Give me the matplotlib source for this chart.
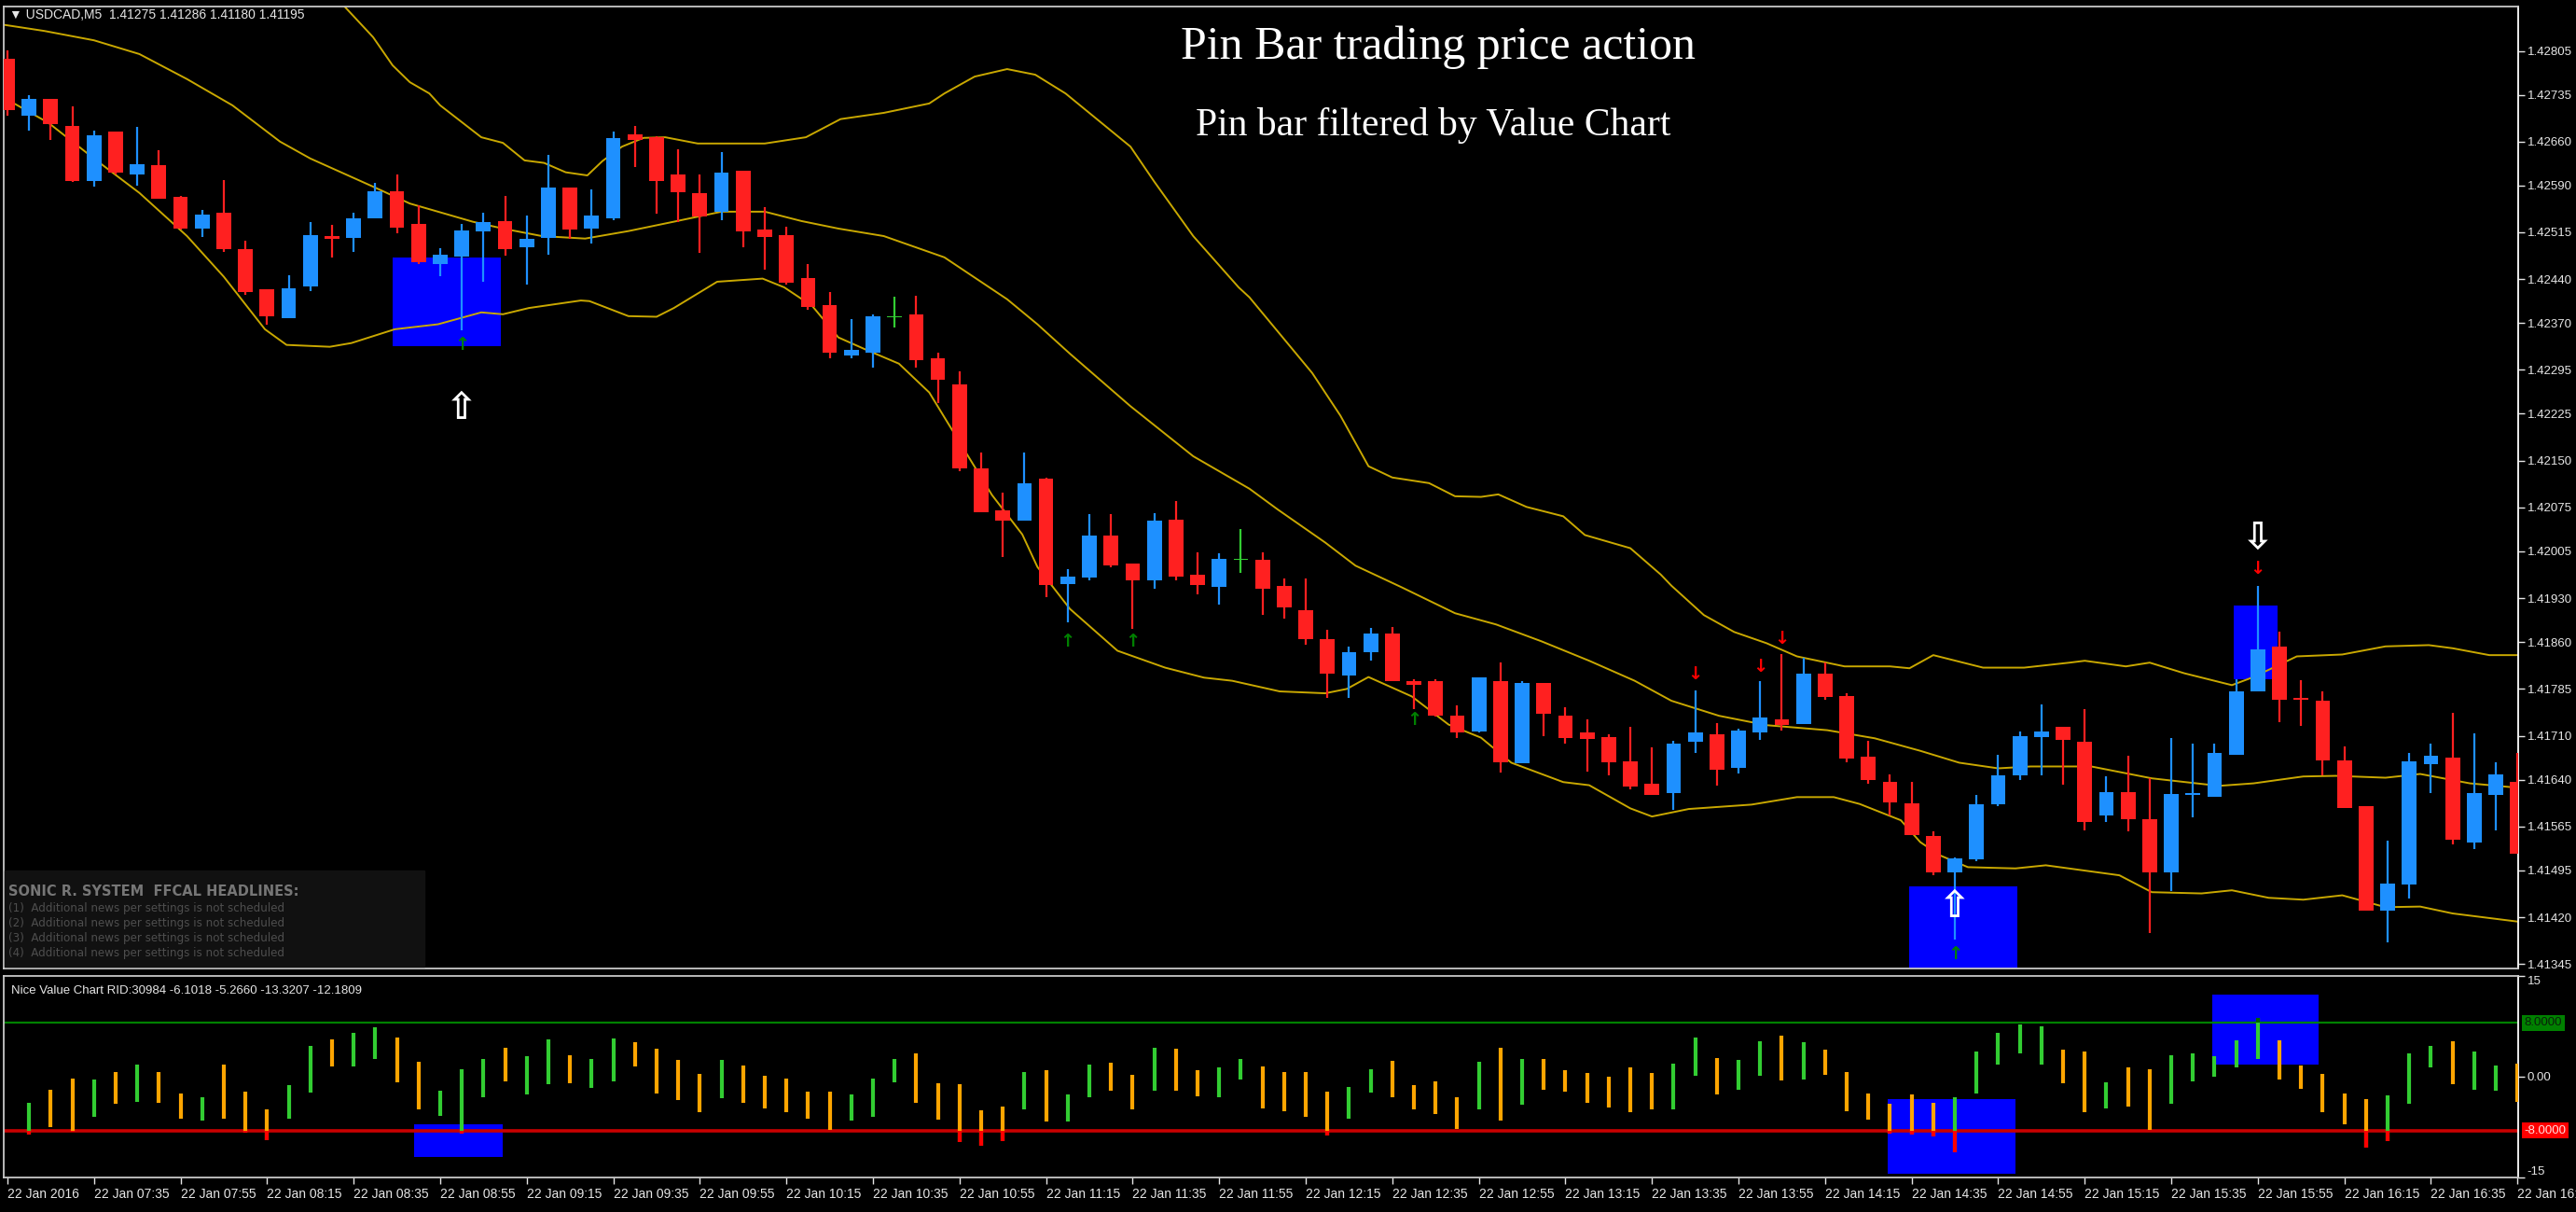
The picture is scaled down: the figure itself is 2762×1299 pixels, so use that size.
import numpy as np
import matplotlib
matplotlib.use("Agg")
import matplotlib.pyplot as plt
from matplotlib.patches import Rectangle

# USDCAD M5 candles, 22 Jan 2016 07:15 .. 16:55 (index 0 .. 116)
opens = [1.42792, 1.42701, 1.42728, 1.42685, 1.42597, 1.42676, 1.42608, 1.42623, 1.42572, 1.42521,
         1.42547, 1.42488, 1.42424, 1.42378, 1.42429, 1.42509, 1.42506, 1.42538, 1.42581, 1.42529,
         1.42464, 1.42476, 1.42516, 1.42533, 1.42491, 1.42506, 1.42587, 1.42521, 1.42538, 1.42671,
         1.42667, 1.42607, 1.42578, 1.42548, 1.42614, 1.42520, 1.42510, 1.42442, 1.42398, 1.42318,
         1.42323, 1.42380, 1.42383, 1.42314, 1.42272, 1.42138, 1.42071, 1.42054, 1.42121, 1.41953,
         1.41963, 1.42030, 1.41985, 1.41959, 1.42055, 1.41967, 1.41948, 1.41992, 1.41992, 1.41950,
         1.41911, 1.41865, 1.41806, 1.41843, 1.41873, 1.41798, 1.41797, 1.41743, 1.41717, 1.41797,
         1.41666, 1.41794, 1.41743, 1.41715, 1.41708, 1.41669, 1.41633, 1.41618, 1.41701, 1.41713,
         1.41659, 1.41716, 1.41737, 1.41729, 1.41810, 1.41774, 1.41676, 1.41637, 1.41602, 1.41550,
         1.41492, 1.41513, 1.41600, 1.41647, 1.41708, 1.41725, 1.41701, 1.41583, 1.41620, 1.41576,
         1.41492, 1.41615, 1.41612, 1.41679, 1.41781, 1.41853, 1.41770, 1.41766, 1.41670, 1.41598,
         1.41430, 1.41472, 1.41665, 1.41675, 1.41540, 1.41615, 1.41637]
highs = [1.42806, 1.42734, 1.42729, 1.42717, 1.42678, 1.42676, 1.42683, 1.42646, 1.42573, 1.42551,
         1.42599, 1.42502, 1.42424, 1.42447, 1.42532, 1.42527, 1.42547, 1.42594, 1.42608, 1.42559,
         1.42490, 1.42528, 1.42547, 1.42573, 1.42542, 1.42639, 1.42587, 1.42583, 1.42676, 1.42685,
         1.42668, 1.42648, 1.42607, 1.42644, 1.42614, 1.42555, 1.42524, 1.42465, 1.42420, 1.42377,
         1.42383, 1.42412, 1.42414, 1.42323, 1.42292, 1.42163, 1.42099, 1.42163, 1.42122, 1.41976,
         1.42064, 1.42064, 1.41985, 1.42066, 1.42086, 1.42004, 1.42002, 1.42040, 1.42004, 1.41962,
         1.41962, 1.41879, 1.41853, 1.41882, 1.41884, 1.41801, 1.41801, 1.41758, 1.41804, 1.41827,
         1.41797, 1.41794, 1.41755, 1.41737, 1.41713, 1.41724, 1.41692, 1.41702, 1.41783, 1.41730,
         1.41722, 1.41798, 1.41841, 1.41835, 1.41828, 1.41778, 1.41702, 1.41648, 1.41637, 1.41558,
         1.41515, 1.41616, 1.41680, 1.41717, 1.41760, 1.41725, 1.41752, 1.41645, 1.41678, 1.41642,
         1.41706, 1.41698, 1.41698, 1.41801, 1.41950, 1.41877, 1.41799, 1.41781, 1.41693, 1.41598,
         1.41542, 1.41683, 1.41698, 1.41747, 1.41714, 1.41667, 1.41683]
lows = [1.42702, 1.42677, 1.42662, 1.42595, 1.42588, 1.42608, 1.42589, 1.42568, 1.42520, 1.42508,
        1.42484, 1.42415, 1.42368, 1.42378, 1.42421, 1.42475, 1.42484, 1.42537, 1.42513, 1.42465,
        1.42445, 1.42359, 1.42436, 1.42478, 1.42432, 1.42479, 1.42504, 1.42497, 1.42534, 1.42620,
        1.42545, 1.42532, 1.42482, 1.42534, 1.42491, 1.42456, 1.42431, 1.42391, 1.42314, 1.42313,
        1.42298, 1.42363, 1.42298, 1.42242, 1.42133, 1.42067, 1.41996, 1.42054, 1.41932, 1.41892,
        1.41958, 1.41979, 1.41881, 1.41945, 1.41959, 1.41936, 1.41920, 1.41971, 1.41903, 1.41897,
        1.41856, 1.41770, 1.41770, 1.41830, 1.41797, 1.41752, 1.41741, 1.41707, 1.41716, 1.41651,
        1.41666, 1.41710, 1.41697, 1.41653, 1.41647, 1.41624, 1.41615, 1.41592, 1.41682, 1.41631,
        1.41650, 1.41703, 1.41718, 1.41729, 1.41768, 1.41668, 1.41634, 1.41582, 1.41552, 1.41487,
        1.41384, 1.41509, 1.41597, 1.41639, 1.41647, 1.41632, 1.41559, 1.41572, 1.41557, 1.41395,
        1.41462, 1.41579, 1.41612, 1.41679, 1.41781, 1.41732, 1.41726, 1.41647, 1.41594, 1.41430,
        1.41380, 1.41450, 1.41618, 1.41537, 1.41529, 1.41559, 1.41521]
closes = [1.42710, 1.42729, 1.42688, 1.42597, 1.42670, 1.42610, 1.42624, 1.42569, 1.42521, 1.42544,
          1.42488, 1.42419, 1.42380, 1.42425, 1.42510, 1.42504, 1.42538, 1.42581, 1.42523, 1.42467,
          1.42479, 1.42518, 1.42531, 1.42488, 1.42505, 1.42587, 1.42519, 1.42542, 1.42665, 1.42662,
          1.42597, 1.42579, 1.42541, 1.42611, 1.42516, 1.42508, 1.42434, 1.42395, 1.42322, 1.42327,
          1.42381, 1.42380, 1.42311, 1.42279, 1.42137, 1.42067, 1.42054, 1.42114, 1.41951, 1.41965,
          1.42030, 1.41983, 1.41958, 1.42054, 1.41965, 1.41951, 1.41993, 1.41992, 1.41945, 1.41916,
          1.41865, 1.41809, 1.41844, 1.41873, 1.41798, 1.41792, 1.41742, 1.41716, 1.41804, 1.41668,
          1.41795, 1.41745, 1.41707, 1.41705, 1.41668, 1.41629, 1.41615, 1.41697, 1.41715, 1.41655,
          1.41718, 1.41739, 1.41727, 1.41810, 1.41772, 1.41673, 1.41639, 1.41604, 1.41552, 1.41492,
          1.41514, 1.41600, 1.41647, 1.41710, 1.41717, 1.41704, 1.41572, 1.41620, 1.41576, 1.41492,
          1.41617, 1.41619, 1.41682, 1.41781, 1.41848, 1.41767, 1.41769, 1.41670, 1.41594, 1.41430,
          1.41474, 1.41669, 1.41678, 1.41544, 1.41619, 1.41648, 1.41521]

# bollinger bands (candle position, price)
upper_x = [13.9, 15.5, 16.9, 17.8, 18.6, 19.5, 20.0, 21.9, 22.9, 23.9, 24.8, 25.8, 26.8, 27.5, 28.4,
           29.4, 30.4, 31.9, 33.4, 35.0, 36.9, 38.5, 40.5, 42.6, 43.3, 44.7, 46.2, 47.5, 48.9, 51.9,
           53.0, 54.8, 56.9, 57.4, 60.3, 61.6, 62.9, 64.0, 65.7, 66.9, 68.1, 68.9, 70.2, 71.9, 72.9,
           75.0, 76.4, 76.9, 78.4, 79.8, 81.3, 82.7, 84.9, 87.0, 87.9, 89.0, 91.3, 93.2, 95.3, 96.0,
           97.9, 99.0, 100.6, 102.8, 103.8, 105.8, 107.9, 109.9, 111.9, 113.0, 114.7, 116.0]
upper_y = [1.42939, 1.42879, 1.42827, 1.42782, 1.42755, 1.42737, 1.42718, 1.42667, 1.42658, 1.42630,
           1.42626, 1.42611, 1.42606, 1.42629, 1.42652, 1.42666, 1.42667, 1.42657, 1.42657, 1.42657,
           1.42667, 1.42696, 1.42706, 1.42721, 1.42737, 1.42764, 1.42776, 1.42767, 1.42737, 1.42652,
           1.42596, 1.42509, 1.42427, 1.42411, 1.42290, 1.42222, 1.42141, 1.42123, 1.42114, 1.42093,
           1.42092, 1.42096, 1.42076, 1.42061, 1.42031, 1.42010, 1.41968, 1.41950, 1.41903, 1.41876,
           1.41858, 1.41837, 1.41821, 1.41821, 1.41818, 1.41839, 1.41819, 1.41819, 1.41827, 1.41830,
           1.41821, 1.41827, 1.41810, 1.41791, 1.41804, 1.41837, 1.41840, 1.41853, 1.41855, 1.41850,
           1.41839, 1.41839]
middle_x = [-0.2, 1.7, 4.0, 6.1, 8.3, 10.4, 12.6, 14.0, 16.9, 18.6, 19.5, 21.5, 22.9, 24.7, 26.7,
            28.7, 30.8, 33.0, 35.0, 36.7, 38.4, 40.5, 43.3, 46.2, 47.6, 49.1, 51.9, 54.8, 57.4, 58.7,
            60.9, 62.3, 64.4, 66.9, 68.8, 70.9, 73.1, 75.2, 76.9, 79.1, 81.3, 84.1, 86.3, 88.4, 90.2,
            92.0, 93.5, 96.3, 99.1, 102.2, 103.8, 106.1, 107.6, 109.9, 111.5, 113.8, 116.0]
middle_y = [1.42847, 1.42837, 1.42822, 1.42800, 1.42760, 1.42718, 1.42660, 1.42633, 1.42588, 1.42561,
            1.42552, 1.42532, 1.42521, 1.42509, 1.42505, 1.42517, 1.42532, 1.42548, 1.42548, 1.42533,
            1.42521, 1.42509, 1.42475, 1.42408, 1.42368, 1.42321, 1.42237, 1.42157, 1.42105, 1.42072,
            1.42019, 1.41982, 1.41948, 1.41906, 1.41888, 1.41861, 1.41830, 1.41798, 1.41766, 1.41742,
            1.41727, 1.41719, 1.41706, 1.41686, 1.41667, 1.41658, 1.41661, 1.41661, 1.41642, 1.41630,
            1.41634, 1.41645, 1.41646, 1.41643, 1.41649, 1.41634, 1.41627]
lower_x = [-0.2, 1.9, 4.0, 6.1, 8.3, 10.0, 11.9, 12.9, 14.9, 15.9, 17.9, 19.9, 21.9, 22.9, 24.1,
           26.5, 26.9, 28.7, 30.0, 30.8, 32.8, 34.9, 35.9, 37.2, 38.4, 39.7, 41.2, 42.6, 43.5, 44.4,
           45.5, 46.9, 47.6, 49.1, 51.3, 53.5, 55.3, 56.6, 58.8, 60.9, 61.9, 62.9, 64.9, 66.6, 68.1,
           69.5, 71.9, 73.1, 75.0, 76.0, 77.7, 80.6, 82.7, 84.4, 85.6, 87.5, 88.4, 89.3, 90.6, 92.8,
           94.2, 97.6, 99.1, 101.4, 102.8, 104.5, 106.1, 107.9, 109.9, 111.5, 113.0, 116.0]
lower_y = [1.42731, 1.42690, 1.42633, 1.42578, 1.42509, 1.42444, 1.42360, 1.42335, 1.42332, 1.42338,
           1.42360, 1.42368, 1.42387, 1.42384, 1.42394, 1.42406, 1.42405, 1.42381, 1.42380, 1.42394,
           1.42436, 1.42441, 1.42427, 1.42397, 1.42347, 1.42327, 1.42305, 1.42259, 1.42208, 1.42157,
           1.42095, 1.42032, 1.41980, 1.41913, 1.41846, 1.41819, 1.41803, 1.41798, 1.41781, 1.41778,
           1.41785, 1.41804, 1.41773, 1.41728, 1.41707, 1.41667, 1.41636, 1.41631, 1.41594, 1.41581,
           1.41593, 1.41600, 1.41612, 1.41612, 1.41601, 1.41575, 1.41540, 1.41519, 1.41500, 1.41498,
           1.41503, 1.41487, 1.41460, 1.41458, 1.41463, 1.41451, 1.41448, 1.41455, 1.41436, 1.41437,
           1.41426, 1.41413]

# pin bar boxes on the price chart
box_x0 = [17.8, 87.9, 102.9]
box_x1 = [22.8, 92.9, 104.9]
box_p0 = [1.42333, 1.41300, 1.41801]
box_p1 = [1.42474, 1.41470, 1.41919]

# signal arrows
green_x = [21, 49, 52, 65, 90]
green_p = [1.42335, 1.41861, 1.41861, 1.41736, 1.41361]
red_x = [78, 81, 82, 104]
red_p = [1.41809, 1.41821, 1.41865, 1.41977]
hollow_up_x = [21, 90]
hollow_up_p = [1.42233, 1.41437]
hollow_dn_x = [104]
hollow_dn_p = [1.42026]

# nice value chart (index 0 not drawn)
vc_high = [np.nan, -3.87, -2.0, -0.22, -0.44, 0.67, 1.78, 0.67, -2.44, -3.02, 1.87,
           -2.22, -4.89, -1.24, 4.58, 5.56, 6.53, 7.33, 5.78, 2.22, -2.13,
           1.11, 2.67, 4.36, 3.02, 5.56, 3.2, 2.67, 5.69, 5.16, 4.22,
           2.44, 0.44, 2.44, 1.64, 0.09, -0.22, -2.22, -2.22, -2.58, -0.22,
           2.67, 3.47, -1.02, -1.11, -5.02, -4.44, 0.67, 0.98, -2.67, 1.78,
           2.09, 0.22, 4.36, 4.22, 0.98, 1.33, 2.67, 1.56, 0.67, 0.67,
           -2.22, -1.56, 1.11, 2.31, -1.24, -0.67, -3.02, 2.22, 4.36, 2.58,
           2.58, 0.98, 0.53, 0.0, 1.33, 0.53, 2.0, 5.87, 2.76, 2.44,
           5.33, 6.13, 5.11, 4.0, 0.67, -2.44, -4.09, -2.67, -3.91, -3.02,
           3.78, 6.58, 7.78, 7.56, 4.0, 3.78, -0.89, 1.33, 1.11, 3.2,
           3.47, 3.02, 5.42, 8.8, 5.42, 1.64, 0.36, -2.44, -3.33, -2.76,
           3.47, 4.53, 5.33, 3.78, 1.64, 2.0]
vc_low = [np.nan, -8.67, -7.56, -8.22, -6.0, -4.0, -3.78, -3.91, -6.31, -6.53, -6.22,
          -8.36, -9.42, -6.31, -2.36, 1.56, 1.56, 2.67, -0.89, -4.89, -5.78,
          -8.53, -3.11, -0.67, -2.67, -1.11, -1.0, -1.69, -0.67, 1.56, -2.44,
          -3.47, -5.33, -3.2, -3.91, -4.67, -5.24, -6.31, -7.91, -6.58, -6.0,
          -0.89, -3.91, -6.44, -9.69, -10.31, -9.56, -4.89, -6.67, -6.67, -3.02,
          -2.13, -4.8, -2.13, -2.13, -2.89, -3.11, -0.44, -4.67, -5.11, -6.0,
          -8.8, -6.31, -2.31, -3.02, -4.8, -5.56, -7.78, -4.89, -6.58, -4.22,
          -2.0, -2.22, -3.91, -4.53, -5.33, -4.89, -4.89, 0.09, -2.67, -2.0,
          0.09, -0.53, -0.44, 0.22, -5.11, -6.44, -8.53, -8.67, -8.89, -11.2,
          -2.44, 1.87, 3.47, 1.78, -1.0, -5.33, -4.67, -4.44, -7.91, -4.0,
          -0.67, 0.0, 1.42, 2.58, -0.44, -1.87, -5.33, -7.02, -10.58, -9.64,
          -4.0, 1.42, -1.11, -2.0, -2.13, -3.78]

vc_box_x0 = [18.8, 86.9, 101.9]
vc_box_x1 = [22.9, 92.8, 106.8]
vc_box_v0 = [-12.0, -14.44, 1.87]
vc_box_v1 = [-7.02, -3.33, 12.22]

price_ticks = [1.42805, 1.42735, 1.42660, 1.42590, 1.42515, 1.42440, 1.42370, 1.42295, 1.42225,
               1.42150, 1.42075, 1.42005, 1.41930, 1.41860, 1.41785, 1.41710, 1.41640, 1.41565,
               1.41495, 1.41420, 1.41345]
time_ticks = list(range(0, 117, 4))
time_labels = ["22 Jan 2016", "22 Jan 07:35", "22 Jan 07:55", "22 Jan 08:15", "22 Jan 08:35",
               "22 Jan 08:55", "22 Jan 09:15", "22 Jan 09:35", "22 Jan 09:55", "22 Jan 10:15",
               "22 Jan 10:35", "22 Jan 10:55", "22 Jan 11:15", "22 Jan 11:35", "22 Jan 11:55",
               "22 Jan 12:15", "22 Jan 12:35", "22 Jan 12:55", "22 Jan 13:15", "22 Jan 13:35",
               "22 Jan 13:55", "22 Jan 14:15", "22 Jan 14:35", "22 Jan 14:55", "22 Jan 15:15",
               "22 Jan 15:35", "22 Jan 15:55", "22 Jan 16:15", "22 Jan 16:35", "22 Jan 16:55"]
news_lines = ["(1)  Additional news per settings is not scheduled",
              "(2)  Additional news per settings is not scheduled",
              "(3)  Additional news per settings is not scheduled",
              "(4)  Additional news per settings is not scheduled"]

W, H = 2762, 1299
BG = "black"
FRAME = "#c8c8c8"
LBL = "#e6e6e6"
SANS = ["Liberation Sans", "DejaVu Sans"]


def fx(px):
    return px / W


def fy(py):
    return 1 - py / H


fig = plt.figure(figsize=(W / 100, H / 100), dpi=100, facecolor=BG)
ax1 = fig.add_axes([fx(4), fy(1038), fx(2696), 1031 / H], facecolor=BG)
ax2 = fig.add_axes([fx(4), fy(1262), fx(2696), 216 / H], facecolor=BG)

for ax in (ax1, ax2):
    ax.set_xlim(-0.17, 116.03)
    for s in ax.spines.values():
        s.set_color(FRAME)
        s.set_linewidth(1.3)
    ax.spines["right"].set_color("white")

# ---- price panel
ax1.set_ylim(1.41338, 1.42876)
for x0, x1, p0, p1 in zip(box_x0, box_x1, box_p0, box_p1):
    ax1.add_patch(Rectangle((x0, p0), x1 - x0, p1 - p0, color="#0000ff", lw=0, zorder=1))

band_col = "#c9a800"
ax1.plot(upper_x, upper_y, color=band_col, lw=1.4, zorder=2)
ax1.plot(middle_x, middle_y, color=band_col, lw=1.4, zorder=2)
ax1.plot(lower_x, lower_y, color=band_col, lw=1.4, zorder=2)

o = np.array(opens)
c = np.array(closes)
idx = np.arange(len(o))
col = np.where(c > o, "#1e90ff", np.where(c < o, "#ff2020", "#32cd32"))
ax1.vlines(idx, lows, highs, colors=col, lw=1.6, zorder=3)
body_h = np.maximum(np.abs(c - o), 0.000025)
ax1.bar(idx, body_h, bottom=(o + c) / 2 - body_h / 2, width=0.68, color=col, lw=0, zorder=4)

for x, p in zip(green_x, green_p):
    ax1.text(x, p, "\u2191", color="#008000", fontsize=14, fontweight="bold",
             ha="center", va="center", zorder=5, family="DejaVu Sans")
for x, p in zip(red_x, red_p):
    ax1.text(x, p, "\u2193", color="#ff0000", fontsize=14, fontweight="bold",
             ha="center", va="center", zorder=5, family="DejaVu Sans")
for x, p in zip(hollow_up_x, hollow_up_p):
    ax1.text(x, p, "\u21e7", color="white", fontsize=29, fontweight="bold", ha="center",
             va="center", zorder=5, family="DejaVu Sans")
for x, p in zip(hollow_dn_x, hollow_dn_p):
    ax1.text(x, p, "\u21e9", color="white", fontsize=29, fontweight="bold", ha="center",
             va="center", zorder=5, family="DejaVu Sans")

ax1.set_xticks([])
ax1.yaxis.tick_right()
ax1.set_yticks(price_ticks)
ax1.set_yticklabels([f"{v:.5f}" for v in price_ticks])
ax1.tick_params(axis="y", colors=LBL, labelsize=9.5, length=5, width=1, pad=2)
for t in ax1.get_yticklabels():
    t.set_family(SANS)

# ---- value chart panel
ax2.set_ylim(-15, 15)
for x0, x1, v0, v1 in zip(vc_box_x0, vc_box_x1, vc_box_v0, vc_box_v1):
    ax2.add_patch(Rectangle((x0, v0), x1 - x0, v1 - v0, color="#0000ff", lw=0, zorder=1))
ax2.axhline(8, color="#008000", lw=1.6, zorder=2)
ax2.axhline(-8, color="#c80000", lw=2.6, zorder=2)

hi = np.array(vc_high)
lo = np.array(vc_low)
vidx = np.arange(len(hi))
vcol = np.where(c > o, "#32cd32", np.where(c < o, "#ffa500", "#32cd32"))
ax2.vlines(vidx, lo, hi, colors=vcol, lw=3, zorder=3)
m = lo < -8
ax2.vlines(vidx[m], lo[m], np.minimum(hi[m], -8), colors="#ff0000", lw=3, zorder=3)
m = hi > 8
ax2.vlines(vidx[m], np.maximum(lo[m], 8), hi[m], colors="#006400", lw=3, zorder=3)

ax2.yaxis.tick_right()
ax2.set_yticks([15, 0, -15])
ax2.set_yticklabels(["15", "0.00", "-15"])
ax2.tick_params(axis="y", colors=LBL, labelsize=9.5, length=5, width=1, pad=2)
ylab = ax2.get_yticklabels()
ylab[0].set_va("top")
ylab[2].set_va("bottom")
for t in ylab:
    t.set_family(SANS)

tr = ax2.get_yaxis_transform()
ax2.text(1.0025, 8, "8.0000", transform=tr, ha="left", va="center", fontsize=9.5,
         color="#0a200a", family=SANS,
         bbox=dict(boxstyle="square,pad=0.2", fc="#008000", ec="none"))
ax2.text(1.0025, -8, "-8.0000", transform=tr, ha="left", va="center", fontsize=9.5,
         color="#ffe0e0", family=SANS,
         bbox=dict(boxstyle="square,pad=0.2", fc="#ff0000", ec="none"))

ax2.set_xticks(time_ticks)
ax2.set_xticklabels(time_labels)
ax2.tick_params(axis="x", colors=LBL, labelsize=10, length=5, width=1, pad=3)
for t in ax2.get_xticklabels():
    t.set_ha("left")
    t.set_family(SANS)

ax2.text(0.003, 0.955, "Nice Value Chart RID:30984 -6.1018 -5.2660 -13.3207 -12.1809",
         transform=ax2.transAxes, ha="left", va="top", fontsize=9.5, color=LBL, family=SANS)

# ---- texts on the chart
fig.text(fx(10), fy(16), "\u25bc USDCAD,M5  1.41275 1.41286 1.41180 1.41195", ha="left",
         va="center", fontsize=10, color=LBL, family=SANS)
fig.text(fx(1542), fy(51), "Pin Bar trading price action", ha="center", va="center",
         fontsize=36, color="white", family="Liberation Serif")
fig.text(fx(1537), fy(135), "Pin bar filtered by Value Chart", ha="center", va="center",
         fontsize=30, color="white", family="Liberation Serif")

fig.patches.append(Rectangle((fx(5), fy(1036)), fx(450), 103 / H, transform=fig.transFigure,
                             color="#111111", zorder=0.5))
fig.text(fx(9), fy(955), "SONIC R. SYSTEM  FFCAL HEADLINES:", ha="left", va="center",
         fontsize=10.5, fontweight="bold", color="#767676", family="DejaVu Sans")
for k, line in enumerate(news_lines):
    fig.text(fx(9), fy(973 + 16 * k), line, ha="left", va="center", fontsize=8.6,
             color="#4e4e4e", family="DejaVu Sans")

fig.savefig("out.png", dpi=100, facecolor=BG)
